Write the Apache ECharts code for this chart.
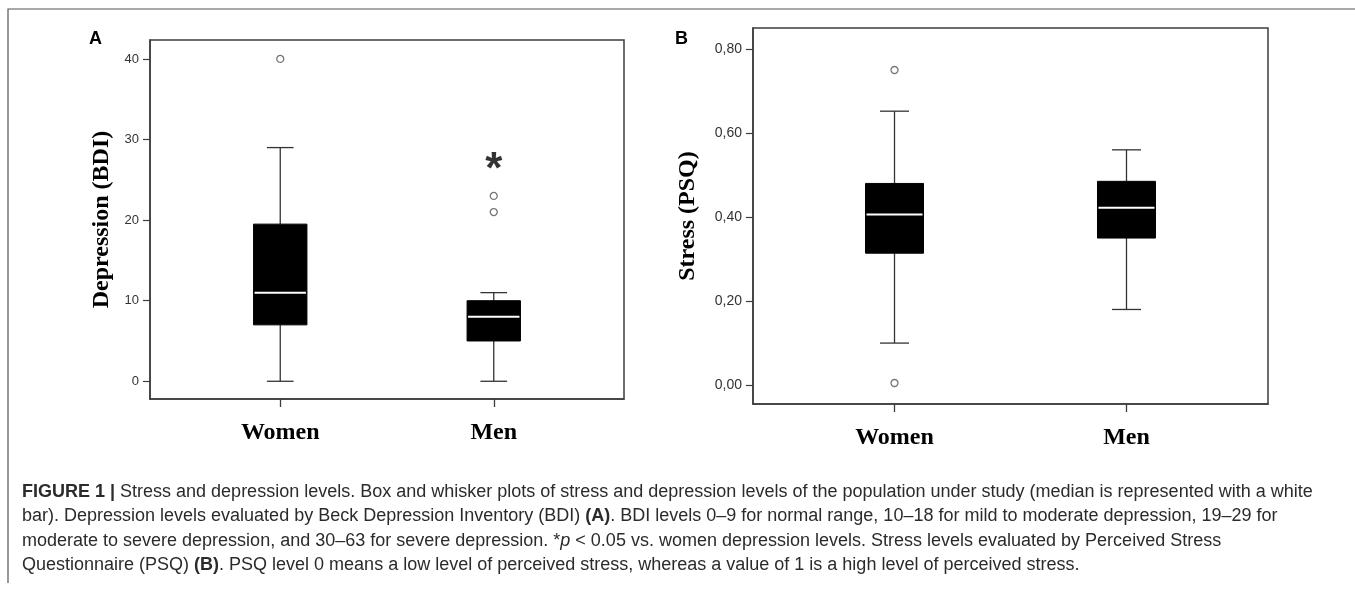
<!DOCTYPE html>
<html>
<head>
<meta charset="utf-8">
<script src="https://cdn.jsdelivr.net/npm/echarts@6.0.0/dist/echarts.min.js"></script>
<style>html,body{margin:0;padding:0;background:#fff}#main{width:1355px;height:589px}</style>
</head>
<body>
<div id="main"></div>
<script>
// groups on the x axis (0 = Women, 1 = Men)
var groups = ['Women', 'Men'];

// depression (BDI): [min, Q1, median, Q3, max]
var bdiStats = [[0, 7, 11, 19.5, 29], [0, 5, 8, 10, 11]];
var bdiOutliers = [[0, 40], [1, 21], [1, 23]];
var bdiSignif = [[1, 27]];
var bdiTicks = [0, 10, 20, 30, 40];

// stress (PSQ): [min, Q1, median, Q3, max]
var psqStats = [[0.10, 0.314, 0.406, 0.480, 0.652], [0.18, 0.35, 0.422, 0.485, 0.56]];
var psqOutliers = [[0, 0.75], [0, 0.005]];
var psqTicks = [0, 0.2, 0.4, 0.6, 0.8];

var BOX_W = 0.25;
var AXIS_COLOR = '#3c3c3c';

var chart = echarts.init(document.getElementById('main'));
window.addEventListener('resize', function () { chart.resize(); });

function boxItem(params, api) {
  var x = api.value(0);
  var lo = api.coord([x, api.value(1)]);
  var q1 = api.coord([x, api.value(2)]);
  var md = api.coord([x, api.value(3)]);
  var q3 = api.coord([x, api.value(4)]);
  var hi = api.coord([x, api.value(5)]);
  var bw = api.size([BOX_W, 0])[0];
  var cw = bw / 2;
  var cx = lo[0];
  var ln = { stroke: '#333', lineWidth: 1.3 };
  return {
    type: 'group',
    children: [
      { type: 'line', shape: { x1: cx, y1: hi[1], x2: cx, y2: q3[1] }, style: ln },
      { type: 'line', shape: { x1: cx, y1: q1[1], x2: cx, y2: lo[1] }, style: ln },
      { type: 'line', shape: { x1: cx - cw / 2, y1: hi[1], x2: cx + cw / 2, y2: hi[1] }, style: ln },
      { type: 'line', shape: { x1: cx - cw / 2, y1: lo[1], x2: cx + cw / 2, y2: lo[1] }, style: ln },
      { type: 'rect', shape: { x: cx - bw / 2, y: q3[1], width: bw, height: q1[1] - q3[1] },
        style: { fill: '#000', stroke: '#000', lineWidth: 1 } },
      { type: 'line', shape: { x1: cx - bw / 2 + 1, y1: md[1], x2: cx + bw / 2 - 1, y2: md[1] },
        style: { stroke: '#fff', lineWidth: 2 } }
    ]
  };
}

function boxData(stats) {
  return stats.map(function (s, i) { return [i].concat(s); });
}

function xAxisFor(gi) {
  return {
    type: 'value', gridIndex: gi, min: -0.61, max: 1.61,
    splitLine: { show: false },
    axisLine: { onZero: false, lineStyle: { color: AXIS_COLOR, width: 1.5 } },
    axisTick: { show: true, length: 8, customValues: [0, 1], lineStyle: { color: AXIS_COLOR, width: 1.3 } },
    axisLabel: {
      customValues: [0, 1], margin: 22,
      formatter: function (v) { return groups[Math.round(v)]; },
      fontFamily: 'Liberation Serif', fontWeight: 'bold', fontSize: 24, color: '#000'
    }
  };
}

function yAxisFor(gi, min, max, ticks, name, gap, fmt, fs) {
  return {
    type: 'value', gridIndex: gi, min: min, max: max,
    name: name, nameLocation: 'middle', nameGap: gap, nameRotate: 90,
    nameTextStyle: { fontFamily: 'Liberation Serif', fontWeight: 'bold', fontSize: 24, color: '#000' },
    splitLine: { show: false },
    axisLine: { show: true, onZero: false, lineStyle: { color: AXIS_COLOR, width: 1.5 } },
    axisTick: { show: true, length: 7, customValues: ticks, lineStyle: { color: AXIS_COLOR, width: 1.2 } },
    axisLabel: {
      customValues: ticks, margin: 11, formatter: fmt,
      fontFamily: 'Liberation Sans', fontSize: fs, color: '#333'
    }
  };
}

function outlierSeries(xi, data) {
  return {
    type: 'scatter', xAxisIndex: xi, yAxisIndex: xi, data: data,
    symbol: 'circle', symbolSize: 7,
    itemStyle: { color: '#fff', borderColor: '#555', borderWidth: 1.3 }
  };
}

var FS = 18;
var captionStyle = { fontFamily: 'Liberation Sans', fontSize: FS, fill: '#2b2b2b' };
var rich = {
  b: { fontFamily: 'Liberation Sans', fontSize: FS, fontWeight: 'bold', fill: '#2b2b2b' },
  i: { fontFamily: 'Liberation Sans', fontSize: FS, fontStyle: 'italic', fill: '#2b2b2b' }
};
var captionLines = [
  '{b|FIGURE 1 |} Stress and depression levels. Box and whisker plots of stress and depression levels of the population under study (median is represented with a white',
  'bar). Depression levels evaluated by Beck Depression Inventory (BDI) {b|(A)}. BDI levels 0\u20139 for normal range, 10\u201318 for mild to moderate depression, 19\u201329 for',
  'moderate to severe depression, and 30\u201363 for severe depression. *{i|p} < 0.05 vs. women depression levels. Stress levels evaluated by Perceived Stress',
  'Questionnaire (PSQ) {b|(B)}. PSQ level 0 means a low level of perceived stress, whereas a value of 1 is a high level of perceived stress.'
];

var graphics = [
  { type: 'polyline', shape: { points: [[8, 583], [8, 9], [1355, 9]] },
    style: { stroke: '#555', lineWidth: 1.2, fill: null } },
  { type: 'text', x: 89, y: 30, style: { text: 'A', fontFamily: 'Liberation Sans', fontWeight: 'bold', fontSize: 18, fill: '#000' } },
  { type: 'text', x: 675, y: 30, style: { text: 'B', fontFamily: 'Liberation Sans', fontWeight: 'bold', fontSize: 18, fill: '#000' } }
];
captionLines.forEach(function (t, i) {
  graphics.push({
    type: 'text', x: 22, y: 492 + i * 24.5,
    style: Object.assign({ text: t, verticalAlign: 'middle', rich: rich }, captionStyle)
  });
});

var option = {
  animation: false,
  backgroundColor: '#fff',
  grid: [
    { left: 150, top: 40, width: 474, height: 359, show: true, borderColor: AXIS_COLOR, borderWidth: 1.5 },
    { left: 753, top: 28, width: 515, height: 376, show: true, borderColor: AXIS_COLOR, borderWidth: 1.5 }
  ],
  xAxis: [xAxisFor(0), xAxisFor(1)],
  yAxis: [
    yAxisFor(0, -2.2, 42.35, bdiTicks, 'Depression (BDI)', 36, function (v) { return String(v); }, 13),
    yAxisFor(1, -0.045, 0.85, psqTicks, 'Stress (PSQ)', 53, function (v) { return v.toFixed(2).replace('.', ','); }, 14)
  ],
  series: [
    { type: 'custom', xAxisIndex: 0, yAxisIndex: 0, renderItem: boxItem,
      encode: { x: 0, y: [1, 2, 3, 4, 5] }, data: boxData(bdiStats) },
    outlierSeries(0, bdiOutliers),
    { type: 'scatter', xAxisIndex: 0, yAxisIndex: 0, data: bdiSignif,
      symbol: 'circle', symbolSize: 1, itemStyle: { color: 'transparent' },
      label: { show: true, position: 'inside', formatter: '*', offset: [0, 7],
        fontFamily: 'Liberation Sans', fontWeight: 'bold', fontSize: 44, color: '#000' } },
    { type: 'custom', xAxisIndex: 1, yAxisIndex: 1, renderItem: boxItem,
      encode: { x: 0, y: [1, 2, 3, 4, 5] }, data: boxData(psqStats) },
    outlierSeries(1, psqOutliers)
  ],
  graphic: graphics
};
chart.setOption(option);
</script>
</body>
</html>
